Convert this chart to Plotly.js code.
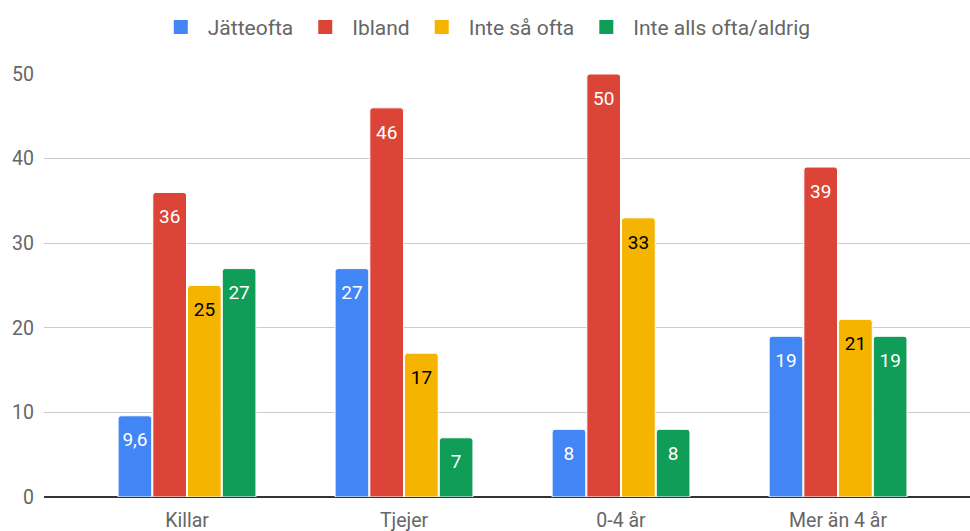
<!DOCTYPE html>
<html>
<head>
<meta charset="utf-8">
<script src="https://cdn.plot.ly/plotly-3.0.1.min.js"></script>
<style>html,body{margin:0;padding:0;background:#fff}#chart{width:970px;height:531px}</style>
</head>
<body>
<div id="chart"></div>
<script>
const categories = ["Killar", "Tjejer", "0-4 år", "Mer än 4 år"];
const seriesNames = ["Jätteofta", "Ibland", "Inte så ofta", "Inte alls ofta/aldrig"];
const jatteofta = [9.6, 27, 8, 19];
const ibland = [36, 46, 50, 39];
const inteSaOfta = [25, 17, 33, 21];
const inteAllsOfta = [27, 7, 8, 19];
const yTicks = [0, 10, 20, 30, 40, 50];

const colors = ["#4285F4", "#DB4437", "#F4B400", "#0F9D58"];
const textColors = ["#ffffff", "#ffffff", "#000000", "#ffffff"];
const allValues = [jatteofta, ibland, inteSaOfta, inteAllsOfta];
const spacer = '<span style="font-size:3px">\u00A0</span><br>';

const barTraces = allValues.map((vals, i) => ({
  type: "bar",
  name: seriesNames[i],
  x: categories,
  y: vals,
  text: vals.map(v => spacer + String(v).replace(".", ",")),
  textposition: "inside",
  insidetextanchor: "end",
  constraintext: "none",
  textangle: 0,
  textfont: {family: "Roboto, sans-serif", size: 19, color: textColors[i]},
  marker: {color: colors[i], cornerradius: 3, line: {color: "#ffffff", width: 1}},
  hoverinfo: "none",
  showlegend: false
}));

// legend-only entries (larger square swatches like the reference)
const legendTraces = seriesNames.map((name, i) => ({
  type: "scatter",
  mode: "markers",
  name: name,
  x: [categories[0]],
  y: [null],
  marker: {symbol: "square", size: 14, color: colors[i]},
  hoverinfo: "none",
  showlegend: true
}));

const layout = {
  width: 970,
  height: 531,
  margin: {l: 44, r: 0, t: 74, b: 34},
  paper_bgcolor: "#ffffff",
  plot_bgcolor: "#ffffff",
  font: {family: "Roboto, sans-serif", color: "#666666"},
  barmode: "group",
  bargap: 0.36,
  bargroupgap: 0.03,
  showlegend: true,
  legend: {
    orientation: "h",
    x: 0.476, xanchor: "center",
    y: 0.987, yanchor: "top",
    yref: "container",
    font: {family: "Roboto, sans-serif", size: 21, color: "#666666"},
    itemwidth: 44,
    traceorder: "normal"
  },
  xaxis: {
    type: "category",
    range: [-0.659, 3.608],
    showgrid: false,
    zeroline: false,
    showline: false,
    ticks: "",
    tickfont: {family: "Roboto, sans-serif", size: 19.5, color: "#666666"},
    ticklabelstandoff: 9
  },
  yaxis: {
    range: [0, 50],
    tickvals: yTicks,
    ticktext: yTicks.map(String),
    showgrid: true,
    gridcolor: "#cccccc",
    gridwidth: 1,
    zeroline: true,
    zerolinecolor: "#333333",
    zerolinewidth: 2,
    showline: false,
    ticks: "",
    tickfont: {family: "Roboto, sans-serif", size: 19.5, color: "#666666"},
    ticklabelstandoff: 9
  }
};

Plotly.newPlot("chart", barTraces.concat(legendTraces), layout, {displayModeBar: false, staticPlot: true});
</script>
</body>
</html>
